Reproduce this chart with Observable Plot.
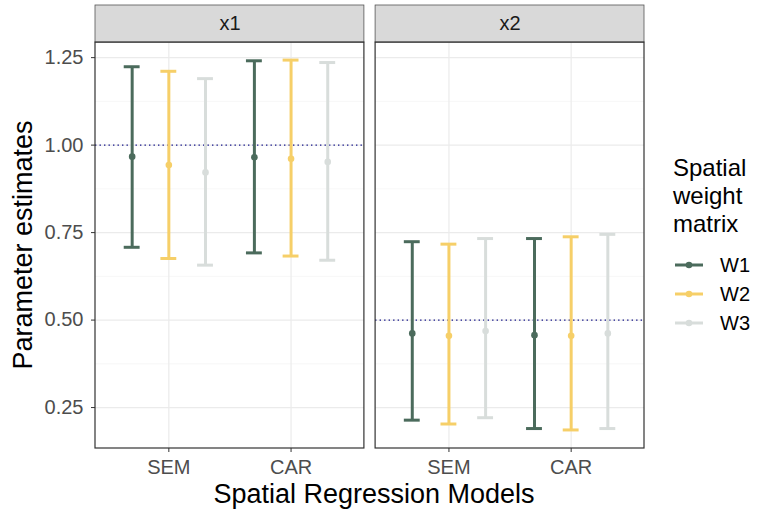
<!DOCTYPE html>
<html>
<head>
<meta charset="utf-8">
<script src="https://cdn.jsdelivr.net/npm/d3@7"></script>
<script src="https://cdn.jsdelivr.net/npm/@observablehq/plot@0.6"></script>
<style>
  html, body { margin: 0; padding: 0; background: #fff; }
  #wrap { position: relative; width: 761px; height: 512px; font-family: "Liberation Sans", Arial, sans-serif; }
  #wrap > svg { position: absolute; left: 0; top: 0; }
</style>
</head>
<body>
<div id="wrap"></div>
<script>
// ---- data ----
const variables = ["x1", "x2"];
const models = ["SEM", "CAR"];
const matrices = ["W1", "W2", "W3"];
const colors = ["#4b6b5c", "#f6cf68", "#d8dddb"];
const trueValues = [1.0, 0.5];
// order: SEM W1, SEM W2, SEM W3, CAR W1, CAR W2, CAR W3
const est_x1   = [0.967, 0.943, 0.922, 0.965, 0.961, 0.952];
const lower_x1 = [0.708, 0.676, 0.657, 0.692, 0.683, 0.671];
const upper_x1 = [1.224, 1.211, 1.190, 1.241, 1.243, 1.236];
const est_x2   = [0.462, 0.455, 0.469, 0.457, 0.455, 0.462];
const lower_x2 = [0.214, 0.203, 0.221, 0.190, 0.186, 0.190];
const upper_x2 = [0.724, 0.717, 0.733, 0.733, 0.738, 0.745];
const yTicks = [0.25, 0.50, 0.75, 1.00, 1.25];
const yMinor = [0.375, 0.625, 0.875, 1.125];
const xTitle = "Spatial Regression Models";
const yTitle = "Parameter estimates";
const legendTitle = ["Spatial", "weight", "matrix"];

// ---- build table ----
const series = {x1: [est_x1, lower_x1, upper_x1], x2: [est_x2, lower_x2, upper_x2]};
const rows = [];
variables.forEach(v => {
  const [e, lo, hi] = series[v];
  models.forEach((m, mi) => matrices.forEach((w, wi) => {
    const k = mi * matrices.length + wi;
    rows.push({v, model: m, W: w, est: e[k], lo: lo[k], hi: hi[k]});
  }));
});
const refRows = variables.map((v, i) => ({v, value: trueValues[i]}));
const facetRows = variables.map(v => ({v}));

// scales layout (ggplot-like discrete expansion and dodge)
const xDomain = [0.4, 2.6];
const dodge = 0.3, capHalf = 0.065;
const pos = d => models.indexOf(d.model) + 1 + (matrices.indexOf(d.W) - 1) * dodge;
const panelBottom = 0.133, panelTop = 1.293, stripTop = 1.399;

const plot = Plot.plot({
  width: 761, height: 512,
  marginLeft: 95, marginRight: 117, marginTop: 5, marginBottom: 64,
  style: {fontFamily: "Liberation Sans, Arial, sans-serif", fontSize: "20px", color: "#4d4d4d", background: "transparent"},
  fx: {domain: variables, paddingInner: 0.04, paddingOuter: 0, axis: null, round: false},
  x: {domain: xDomain},
  y: {domain: [panelBottom, stripTop]},
  color: {domain: matrices, range: colors},
  marks: [
    // minor and major grid
    Plot.ruleY(yMinor, {stroke: "#f3f3f3", strokeWidth: 0.7}),
    Plot.ruleY(yTicks, {stroke: "#ebebeb", strokeWidth: 1.2}),
    Plot.ruleX([1, 2], {y1: panelBottom, y2: panelTop, stroke: "#ebebeb", strokeWidth: 1.2}),
    // reference lines
    Plot.ruleY(refRows, {fx: "v", y: "value", stroke: "#14148a", strokeWidth: 1.4, strokeDasharray: "1.4,3.1"}),
    // error bars
    Plot.ruleX(rows, {fx: "v", x: pos, y1: "lo", y2: "hi", stroke: "W", strokeWidth: 3}),
    Plot.ruleY(rows, {fx: "v", y: "hi", x1: d => pos(d) - capHalf, x2: d => pos(d) + capHalf, stroke: "W", strokeWidth: 3}),
    Plot.ruleY(rows, {fx: "v", y: "lo", x1: d => pos(d) - capHalf, x2: d => pos(d) + capHalf, stroke: "W", strokeWidth: 3}),
    Plot.dot(rows, {fx: "v", x: pos, y: "est", r: 3.3, fill: "W"}),
    // strip and panel borders
    Plot.rect(facetRows, {fx: "v", x1: xDomain[0], x2: xDomain[1], y1: panelTop, y2: stripTop, fill: "#d9d9d9", stroke: "#555", strokeWidth: 0.8}),
    Plot.text(facetRows, {fx: "v", x: (xDomain[0] + xDomain[1]) / 2, y: (panelTop + stripTop) / 2, text: "v", fill: "#1a1a1a", fontSize: 20, lineAnchor: "middle"}),
    Plot.rect(facetRows, {fx: "v", x1: xDomain[0], x2: xDomain[1], y1: panelBottom, y2: panelTop, fill: "none", stroke: "#333", strokeWidth: 1.2}),
    // axes
    Plot.axisX({ticks: [1, 2], tickFormat: i => models[i - 1], tickSize: 4, tickPadding: 7, label: null, fontSize: 20, stroke: "#333"}),
    Plot.axisY({ticks: yTicks, tickFormat: d3.format(".2f"), tickSize: 4, tickPadding: 8, label: null, fontSize: 20, stroke: "#333"})
  ]
});
const wrap = document.getElementById("wrap");
wrap.appendChild(plot);

// ---- titles and legend overlay ----
const ov = d3.select(wrap).append("svg").attr("width", 761).attr("height", 512)
  .style("font-family", "Liberation Sans, Arial, sans-serif");
ov.append("text").attr("x", 374).attr("y", 503).attr("text-anchor", "middle")
  .attr("font-size", 27).attr("fill", "#000").text(xTitle);
ov.append("text").attr("transform", "translate(32,245) rotate(-90)").attr("text-anchor", "middle")
  .attr("font-size", 27).attr("fill", "#000").text(yTitle);
legendTitle.forEach((t, i) => {
  ov.append("text").attr("x", 673).attr("y", 176 + i * 28).attr("font-size", 24).attr("fill", "#000").text(t);
});
matrices.forEach((w, i) => {
  const cy = 265 + i * 29;
  ov.append("line").attr("x1", 675).attr("x2", 703).attr("y1", cy).attr("y2", cy)
    .attr("stroke", colors[i]).attr("stroke-width", 3);
  ov.append("circle").attr("cx", 689).attr("cy", cy).attr("r", 3.3).attr("fill", colors[i]);
  ov.append("text").attr("x", 720).attr("y", cy).attr("dy", "0.35em").attr("font-size", 20).attr("fill", "#000").text(w);
});
</script>
</body>
</html>
